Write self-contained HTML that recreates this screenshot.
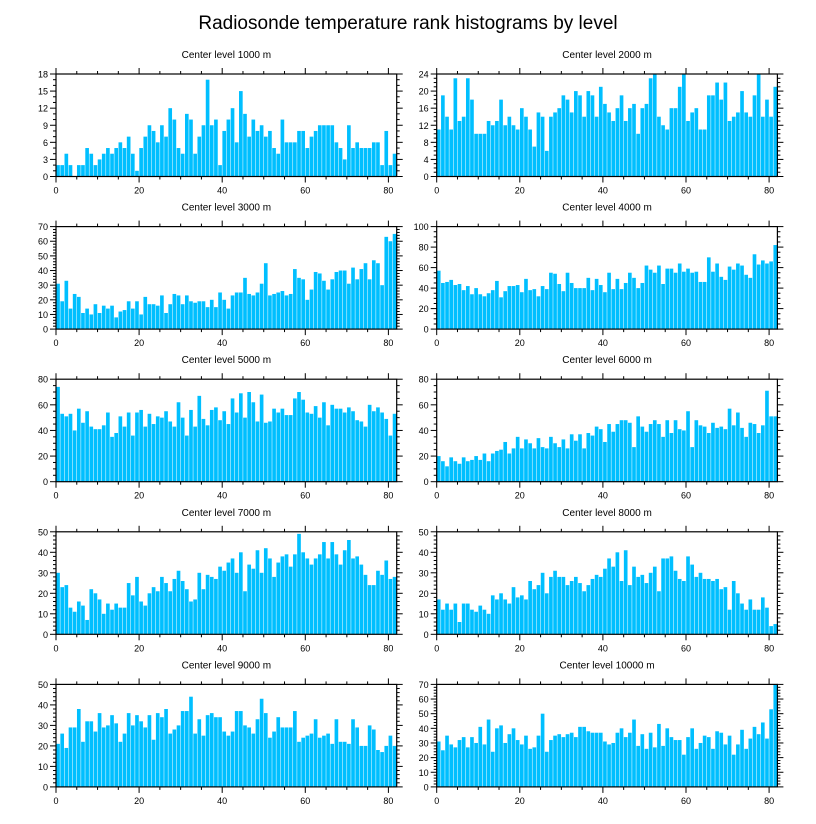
<!DOCTYPE html>
<html><head><meta charset="utf-8"><style>
html,body{margin:0;padding:0;background:#fff;}
svg{display:block;font-family:"Liberation Sans",Arial,sans-serif;}
</style></head><body>
<svg id="chart" width="816" height="824" viewBox="0 0 816 824" xmlns="http://www.w3.org/2000/svg">
<rect width="816" height="824" fill="#fff"/>
<text x="408" y="29" text-anchor="middle" font-size="19" fill="#000">Radiosonde temperature rank histograms by level</text>
</svg>
<script>
const levels = ["1000","2000","3000","4000","5000","6000","7000","8000","9000","10000"];
const yMaxes = [18,24,70,100,80,80,50,50,50,70];
const yStepsMajor = [3,4,10,20,20,20,10,10,10,10];
const yMinorDivs = [3,4,5,4,4,4,5,5,5,5];
const xTickLabels = [0,20,40,60,80];
const counts1000 = [2,2,4,2,0,2,2,5,4,2,3,4,5,4,5,6,5,7,4,1,5,7,9,8,6,9,7,12,10,5,4,11,10,4,7,9,17,9,10,2,8,10,12,6,15,11,7,10,8,9,7,8,5,4,10,6,6,6,8,8,5,7,8,9,9,9,9,6,5,3,9,5,6,5,5,5,6,6,2,8,2,4];
const counts2000 = [11,19,14,11,23,13,14,23,18,10,10,10,13,12,13,18,12,14,12,11,16,14,11,7,15,14,6,14,15,16,19,18,15,20,19,14,20,19,14,21,17,15,13,16,19,13,16,17,10,16,17,23,24,14,12,11,16,16,21,24,13,15,16,11,11,19,19,22,18,22,13,14,15,20,15,14,19,24,14,18,14,21];
const counts3000 = [31,19,33,14,24,22,11,14,10,17,11,16,14,16,8,12,13,19,14,19,10,22,17,17,16,23,11,17,24,23,17,23,19,18,19,19,15,20,15,25,20,14,23,25,25,35,24,23,25,31,45,23,24,25,26,23,24,41,35,34,20,27,39,38,33,27,34,39,40,40,31,42,34,41,45,34,47,45,30,63,60,65];
const counts4000 = [57,45,46,48,43,44,38,42,34,40,34,32,35,38,47,31,37,42,42,43,36,49,38,39,32,42,39,55,54,44,37,55,45,40,40,40,50,38,49,43,36,55,39,49,39,45,55,50,40,45,62,58,55,62,44,59,59,55,64,56,59,55,56,46,46,70,56,64,51,48,61,58,64,62,53,50,73,63,67,64,66,82];
const counts5000 = [74,53,51,53,40,57,46,55,43,41,41,44,54,35,38,51,43,54,36,54,56,43,53,45,51,50,55,47,43,62,50,36,56,43,67,49,44,56,58,48,55,45,65,54,69,50,70,62,47,68,46,47,57,54,57,52,52,65,70,64,54,53,59,50,62,44,60,57,57,54,58,55,48,47,43,60,55,58,54,49,36,53];
const counts6000 = [20,16,12,19,16,14,19,16,17,20,17,22,16,22,24,25,31,22,26,35,26,33,30,26,34,27,26,35,30,27,33,26,37,32,37,26,38,36,43,41,31,45,39,45,48,48,46,27,51,43,39,45,48,45,35,48,38,48,41,40,55,27,48,44,43,38,46,42,43,41,57,44,54,42,35,46,45,38,44,71,51,51];
const counts7000 = [30,23,24,13,11,16,14,7,22,20,17,10,15,12,15,13,13,25,19,28,16,14,20,23,21,28,25,21,27,31,26,22,16,17,30,22,29,28,27,33,31,35,37,30,40,21,34,32,41,30,42,37,28,35,38,39,33,39,49,40,37,34,37,39,45,37,45,39,34,41,46,37,38,34,29,24,24,31,29,36,27,28];
const counts8000 = [17,12,15,12,15,6,15,15,12,11,14,12,10,19,17,20,17,15,23,18,19,17,26,22,24,30,20,28,31,28,28,24,26,28,25,21,24,27,29,28,32,37,33,40,26,41,24,33,28,29,25,30,33,21,37,37,38,31,27,26,38,34,28,30,27,27,26,27,22,23,12,26,20,15,12,17,12,12,18,13,4,5];
const counts9000 = [21,26,19,29,29,38,22,32,32,27,36,29,30,35,31,22,26,36,30,35,32,29,35,23,36,34,38,26,28,30,37,37,44,26,33,25,35,36,34,34,27,25,27,37,37,30,29,26,33,43,36,24,27,34,29,29,29,37,22,24,25,26,33,24,25,26,21,33,22,22,21,33,29,20,20,30,28,18,17,20,25,20];
const counts10000 = [31,25,35,29,27,32,34,27,34,30,41,29,46,24,40,42,30,36,40,32,29,35,26,27,35,50,24,32,35,36,34,36,37,34,41,41,38,37,37,37,31,29,30,37,40,34,37,46,28,36,26,37,27,43,28,40,34,32,32,22,34,40,26,30,35,34,26,38,37,29,35,22,29,39,26,33,41,36,44,33,53,70];
const allCounts = [counts1000,counts2000,counts3000,counts4000,counts5000,counts6000,counts7000,counts8000,counts9000,counts10000];

const NS = "http://www.w3.org/2000/svg";
const svg = document.getElementById("chart");
const X_MAX = 82;
const PW = 340.7, PH = 102.5;
function mk(tag, attrs, parent){
  const e = document.createElementNS(NS, tag);
  for (const k in attrs) e.setAttribute(k, attrs[k]);
  parent.appendChild(e);
  return e;
}
for (let p = 0; p < 10; p++) {
  const col = p % 2, row = Math.floor(p / 2);
  const left = col === 0 ? 56 : 436.7;
  const top = 74 + row * 152.6;
  const bottom = top + PH;
  const yMax = yMaxes[p];
  const xs = v => left + v / X_MAX * PW;
  const ys = v => bottom - v / yMax * PH;
  const g = document.createElementNS(NS, "g");
  
  
  svg.appendChild(g);
  const t = mk("text", {x: left + PW/2, y: top - 16, "text-anchor": "middle", "font-size": 10}, g);
  t.textContent = "Center level " + levels[p] + " m";
  
  
  const bars = document.createElementNS(NS, "g");
  
  
  g.appendChild(bars);
  const data = allCounts[p];
  data.forEach((v, i) => {
    const vv = Math.min(v, yMax);
    const r = mk("rect", {x: xs(i) + 0.2, y: ys(vv), width: Math.max(0, xs(i+1) - xs(i) - 0.5), height: bottom - ys(vv), fill: "#00bfff"}, bars);
    
    
  });
  const fr = mk("rect", {x: left, y: top, width: PW, height: PH, fill: "none", stroke: "#000", "stroke-width": 1.2}, g);
  
  
  const ticks = document.createElementNS(NS, "g");
  
  
  g.appendChild(ticks);
  for (let v = 0; v <= 80; v += 5) {
    const major = v % 20 === 0;
    const L = major ? 6 : 3;
    const x = xs(v);
    mk("line", {x1: x, y1: bottom, x2: x, y2: bottom + L, stroke: "#000", "stroke-width": 1}, ticks);
    mk("line", {x1: x, y1: top, x2: x, y2: top - L, stroke: "#000", "stroke-width": 1}, ticks);
  }
  xTickLabels.forEach(v => {
    const lt = mk("text", {x: xs(v), y: bottom + 17, "text-anchor": "middle", "font-size": 9}, g);
    lt.textContent = v;
    
    
  });
  const step = yStepsMajor[p], minor = step / yMinorDivs[p];
  for (let v = 0; v <= yMax + 1e-6; v += minor) {
    const isMaj = Math.abs(v / step - Math.round(v / step)) < 1e-6;
    const L = isMaj ? 6 : 3;
    const y = ys(v);
    mk("line", {x1: left, y1: y, x2: left - L, y2: y, stroke: "#000", "stroke-width": 1}, ticks);
    mk("line", {x1: left + PW, y1: y, x2: left + PW + L, y2: y, stroke: "#000", "stroke-width": 1}, ticks);
  }
  for (let v = 0; v <= yMax + 1e-6; v += step) {
    const lt = mk("text", {x: left - 8, y: ys(v) + 3.5, "text-anchor": "end", "font-size": 9}, g);
    lt.textContent = Math.round(v);
    
    
  }
}
</script>
</body></html>
